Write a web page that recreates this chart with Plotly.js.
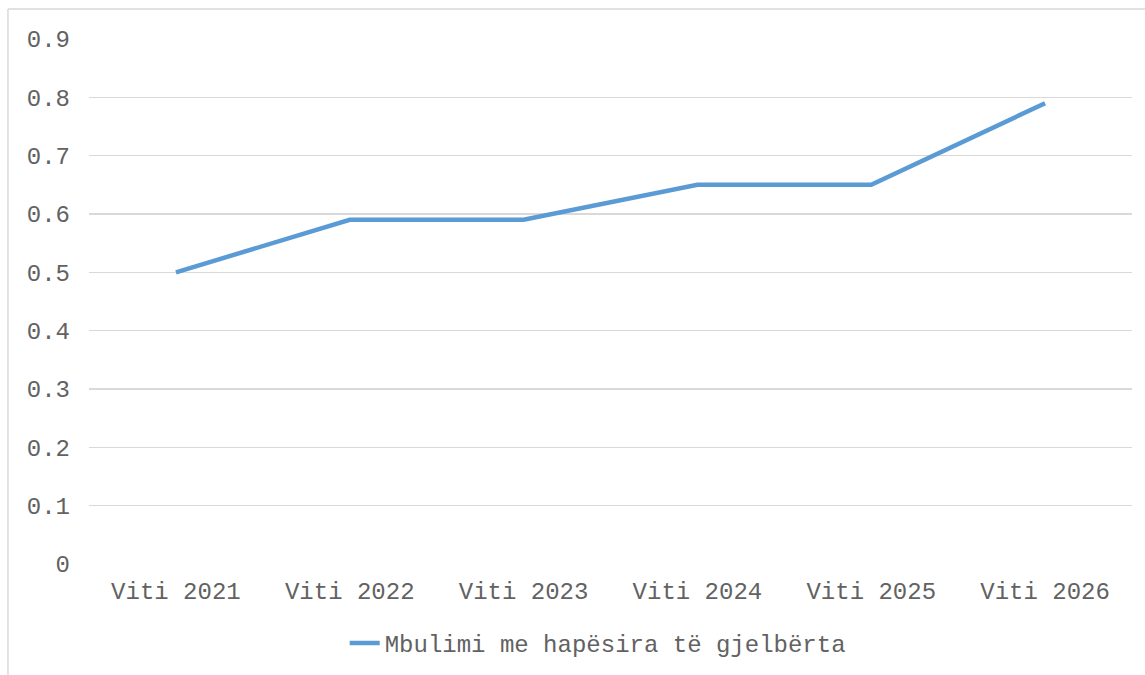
<!DOCTYPE html>
<html>
<head>
<meta charset="utf-8">
<script src="https://cdn.plot.ly/plotly-3.0.1.min.js"></script>
<style>html,body{margin:0;padding:0;background:#fff;}#chart{width:1145px;height:675px;}</style>
</head>
<body>
<div id="chart"></div>
<script>
const categories = ["Viti 2021", "Viti 2022", "Viti 2023", "Viti 2024", "Viti 2025", "Viti 2026"];
const seriesName = "Mbulimi me hapësira të gjelbërta";
const values = [0.5, 0.59, 0.59, 0.65, 0.65, 0.79];
const yTicks = [0, 0.1, 0.2, 0.3, 0.4, 0.5, 0.6, 0.7, 0.8, 0.9];
const yTickText = ["0", "0.1", "0.2", "0.3", "0.4", "0.5", "0.6", "0.7", "0.8", "0.9"];

const font = {family: "'Liberation Mono', 'Courier New', monospace", size: 24, color: "#626262"};

const trace = {
  type: "scatter",
  mode: "lines",
  x: categories,
  y: values,
  name: seriesName,
  line: {color: "#5B9BD5", width: 4.5},
  showlegend: true
};

const layout = {
  width: 1145,
  height: 675,
  margin: {l: 89, r: 13, t: 39, b: 111, pad: 0, autoexpand: false},
  paper_bgcolor: "#ffffff",
  plot_bgcolor: "#ffffff",
  font: font,
  showlegend: true,
  xaxis: {
    type: "category",
    range: [-0.5, 5.5],
    showgrid: false,
    zeroline: false,
    showline: false,
    ticks: "",
    tickfont: font,
    ticklabelstandoff: 10,
    fixedrange: true,
    automargin: false
  },
  yaxis: {
    range: [0, 0.9],
    tickvals: yTicks,
    ticktext: yTickText,
    showgrid: true,
    gridcolor: "#D9D9D9",
    gridwidth: 1.5,
    zeroline: false,
    showline: false,
    ticks: "",
    tickfont: font,
    ticklabelstandoff: 18,
    fixedrange: true,
    automargin: false
  },
  legend: {
    orientation: "h",
    xref: "container",
    yref: "container",
    x: 0.522,
    xanchor: "center",
    y: 0.047,
    yanchor: "middle",
    font: font,
    bgcolor: "rgba(0,0,0,0)"
  },
  shapes: [
    {type: "line", xref: "paper", yref: "paper", x0: -0.0777, x1: 1.2, y0: 1.0571, y1: 1.0571, line: {color: "#D9D9D9", width: 1.5}},
    {type: "line", xref: "paper", yref: "paper", x0: -0.0777, x1: -0.0777, y0: 1.0571, y1: -0.3, line: {color: "#D9D9D9", width: 1.5}}
  ]
};

Plotly.newPlot("chart", [trace], layout, {displayModeBar: false, staticPlot: true});
</script>
</body>
</html>
